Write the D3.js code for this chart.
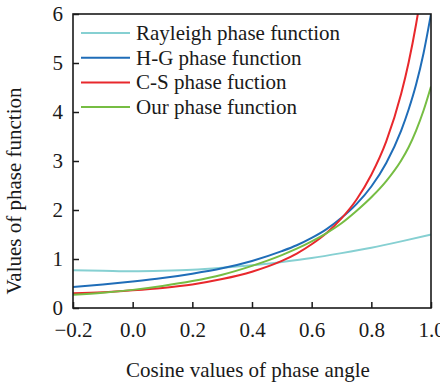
<!DOCTYPE html>
<html><head><meta charset="utf-8">
<script src="https://cdn.jsdelivr.net/npm/d3@7"></script>
<style>body{margin:0;background:#fff}svg{display:block}</style>
</head><body><svg id="c" width="440" height="386"></svg>
<script>
const seriesNames = ["Rayleigh phase function","H-G phase function","C-S phase fuction","Our phase function"];
const colors = ["#86d0d2","#1f6db8","#e8282c","#76bd43"];
const rayleighX = [-0.2,-0.1,0,0.1,0.2,0.3,0.4,0.5,0.6,0.7,0.8,0.9,1.0];
const rayleighY = [0.77,0.76,0.75,0.76,0.78,0.82,0.87,0.94,1.02,1.12,1.23,1.36,1.5];
const hgX = [-0.2,-0.1,0,0.1,0.2,0.3,0.4,0.5,0.55,0.6,0.65,0.7,0.75,0.8,0.85,0.9,0.925,0.95,0.975,1.0];
const hgY = [0.43,0.48,0.54,0.61,0.70,0.81,0.96,1.16,1.28,1.43,1.61,1.84,2.12,2.48,2.96,3.62,4.05,4.56,5.2,6.0];
const csX = [-0.2,-0.1,0,0.1,0.2,0.3,0.4,0.5,0.55,0.6,0.65,0.7,0.75,0.8,0.85,0.9,0.925,0.95,0.96];
const csY = [0.30,0.32,0.36,0.41,0.48,0.59,0.74,0.96,1.11,1.30,1.53,1.83,2.21,2.72,3.40,4.37,5.01,5.79,6.15];
const ourX = [-0.2,-0.1,0,0.1,0.2,0.3,0.4,0.5,0.55,0.6,0.65,0.7,0.75,0.8,0.85,0.9,0.925,0.95,0.975,1.0];
const ourY = [0.27,0.31,0.37,0.45,0.55,0.68,0.86,1.08,1.21,1.36,1.53,1.73,1.98,2.26,2.59,3.01,3.28,3.62,4.03,4.52];
const xTicks = [-0.2,0,0.2,0.4,0.6,0.8,1.0];
const yTicks = [0,1,2,3,4,5,6];

const svg = d3.select("#c");
const L=73,R=431,T=14,B=308;
const x = d3.scaleLinear().domain([-0.2,1.0]).range([L,R]);
const y = d3.scaleLinear().domain([0,6]).range([B,T]);
const font = "'Liberation Serif','Times New Roman',serif";
const fs = 21;

svg.append("defs").append("clipPath").attr("id","clip")
  .append("rect").attr("x",L).attr("y",T).attr("width",R-L).attr("height",B-T);

const series = [[rayleighX,rayleighY],[hgX,hgY],[csX,csY],[ourX,ourY]];
const line = d3.line().x(d=>x(d[0])).y(d=>y(d[1])).curve(d3.curveMonotoneX);
const g = svg.append("g").attr("clip-path","url(#clip)");
series.forEach((s,i)=>{
  const pts = s[0].map((v,j)=>[v,s[1][j]]);
  g.append("path").attr("d",line(pts)).attr("fill","none")
    .attr("stroke",colors[i]).attr("stroke-width",2);
});

// axes
const xAxis = d3.axisBottom(x).tickValues(xTicks).tickSizeInner(-6).tickSizeOuter(0)
  .tickPadding(14).tickFormat(d=>d3.format(".1f")(d).replace("-","\u2212"));
const ax = svg.append("g").attr("transform",`translate(0,${B})`).call(xAxis);
const yAxis = d3.axisLeft(y).tickValues(yTicks).tickSizeInner(-6).tickSizeOuter(0)
  .tickPadding(10).tickFormat(d3.format("d"));
const ay = svg.append("g").attr("transform",`translate(${L},0)`).call(yAxis);
[ax,ay].forEach(a=>{
  a.select(".domain").remove();
  a.selectAll("line").attr("stroke","#1a1a1a").attr("stroke-width",1.5);
  a.selectAll("text").attr("font-family",font).attr("font-size",fs).attr("fill","#1a1a1a");
});
svg.append("rect").attr("x",L).attr("y",T).attr("width",R-L).attr("height",B-T)
  .attr("fill","none").attr("stroke","#1a1a1a").attr("stroke-width",1.6);

// legend
const lg = svg.append("g");
seriesNames.forEach((n,i)=>{
  const yy = 33 + i*24.7;
  lg.append("line").attr("x1",81).attr("x2",130).attr("y1",yy).attr("y2",yy)
    .attr("stroke",colors[i]).attr("stroke-width",2);
  lg.append("text").attr("x",136).attr("y",yy+7).text(n)
    .attr("font-family",font).attr("font-size",fs).attr("fill","#1a1a1a");
});

svg.append("text").attr("x",248).attr("y",377).attr("text-anchor","middle")
  .attr("font-family",font).attr("font-size",fs).attr("fill","#1a1a1a")
  .text("Cosine values of phase angle");
svg.append("text").attr("transform","translate(21,191) rotate(-90)").attr("text-anchor","middle")
  .attr("font-family",font).attr("font-size",fs).attr("fill","#1a1a1a")
  .text("Values of phase function");
</script></body></html>
